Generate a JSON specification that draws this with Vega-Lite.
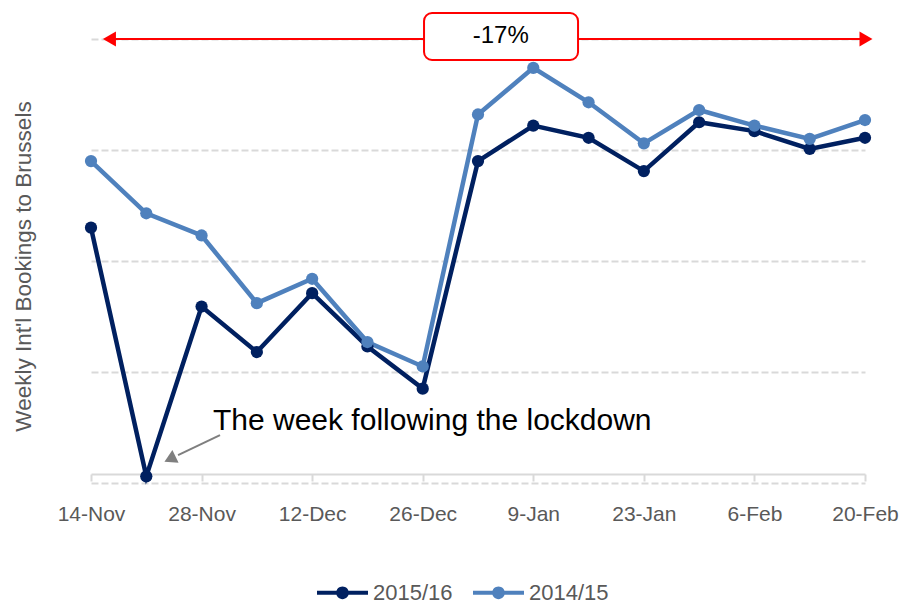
{
  "$schema": "https://vega.github.io/schema/vega-lite/v6.json",
  "width": 774,
  "height": 444,
  "autosize": {"type": "none"},
  "padding": {"left": 91, "top": 39, "right": 37, "bottom": 121},
  "background": "white",
  "config": {"view": {"stroke": null}, "font": "Liberation Sans"},
  "encoding": {
    "x": {
      "field": "date", "type": "temporal", "title": null,
      "scale": {"type": "utc", "nice": false, "domain": [
        {"year": 2015, "month": 11, "date": 14, "utc": true},
        {"year": 2016, "month": 2, "date": 20, "utc": true}
      ]},
      "axis": {
        "values": [
          {"year": 2015, "month": 11, "date": 14, "utc": true},
          {"year": 2015, "month": 11, "date": 28, "utc": true},
          {"year": 2015, "month": 12, "date": 12, "utc": true},
          {"year": 2015, "month": 12, "date": 26, "utc": true},
          {"year": 2016, "month": 1, "date": 9, "utc": true},
          {"year": 2016, "month": 1, "date": 23, "utc": true},
          {"year": 2016, "month": 2, "date": 6, "utc": true},
          {"year": 2016, "month": 2, "date": 20, "utc": true}
        ],
        "format": "%-d-%b",
        "grid": false,
        "offset": -9,
        "domainColor": "#D9D9D9", "domainWidth": 2,
        "tickColor": "#D9D9D9", "tickWidth": 2, "tickSize": 7,
        "labelPadding": 22, "labelFontSize": 21, "labelColor": "#595959",
        "labelFont": "Liberation Sans", "labelFlush": false, "labelOverlap": false
      }
    },
    "y": {
      "field": "value", "type": "quantitative",
      "title": "Weekly Int'l Bookings to Brussels",
      "scale": {"domain": [0, 4], "nice": false, "zero": false},
      "axis": {
        "values": [0, 1, 2, 3, 4],
        "labels": false, "ticks": false, "domain": false,
        "grid": true, "gridColor": "#D9D9D9", "gridDash": [7, 3], "gridWidth": 1.8,
        "titleFont": "Liberation Sans", "titleFontSize": 22.5, "titleFontWeight": "normal",
        "titleColor": "#595959", "titlePadding": 56, "titleY": 227
      }
    }
  },
  "layer": [
    {
      "data": {"values": [
        {"date": "2015-11-14", "season": "2015/16", "value": 2.30},
        {"date": "2015-11-21", "season": "2015/16", "value": 0.06},
        {"date": "2015-11-28", "season": "2015/16", "value": 1.59},
        {"date": "2015-12-05", "season": "2015/16", "value": 1.18},
        {"date": "2015-12-12", "season": "2015/16", "value": 1.71},
        {"date": "2015-12-19", "season": "2015/16", "value": 1.23},
        {"date": "2015-12-26", "season": "2015/16", "value": 0.85},
        {"date": "2016-01-02", "season": "2015/16", "value": 2.90},
        {"date": "2016-01-09", "season": "2015/16", "value": 3.22},
        {"date": "2016-01-16", "season": "2015/16", "value": 3.11},
        {"date": "2016-01-23", "season": "2015/16", "value": 2.81},
        {"date": "2016-01-30", "season": "2015/16", "value": 3.25},
        {"date": "2016-02-06", "season": "2015/16", "value": 3.17},
        {"date": "2016-02-13", "season": "2015/16", "value": 3.01},
        {"date": "2016-02-20", "season": "2015/16", "value": 3.11},
        {"date": "2015-11-14", "season": "2014/15", "value": 2.90},
        {"date": "2015-11-21", "season": "2014/15", "value": 2.43},
        {"date": "2015-11-28", "season": "2014/15", "value": 2.23},
        {"date": "2015-12-05", "season": "2014/15", "value": 1.62},
        {"date": "2015-12-12", "season": "2014/15", "value": 1.84},
        {"date": "2015-12-19", "season": "2014/15", "value": 1.27},
        {"date": "2015-12-26", "season": "2014/15", "value": 1.05},
        {"date": "2016-01-02", "season": "2014/15", "value": 3.32},
        {"date": "2016-01-09", "season": "2014/15", "value": 3.74},
        {"date": "2016-01-16", "season": "2014/15", "value": 3.43},
        {"date": "2016-01-23", "season": "2014/15", "value": 3.06},
        {"date": "2016-01-30", "season": "2014/15", "value": 3.36},
        {"date": "2016-02-06", "season": "2014/15", "value": 3.22},
        {"date": "2016-02-13", "season": "2014/15", "value": 3.10},
        {"date": "2016-02-20", "season": "2014/15", "value": 3.27}
      ]},
      "mark": {"type": "line", "strokeWidth": 4.5, "point": {"filled": true, "size": 150}},
      "encoding": {
        "color": {
          "field": "season", "type": "nominal",
          "scale": {"domain": ["2015/16", "2014/15"], "range": ["#002060", "#4F81BD"]},
          "legend": {
            "orient": "none", "legendX": 226, "legendY": 528, "direction": "horizontal",
            "title": null, "padding": 0,
            "symbolType": "M-1,-0.08H1V0.08H-1Z M-0.25,0A0.25,0.25 0 1,1 0.25,0A0.25,0.25 0 1,1 -0.25,0Z",
            "symbolSize": 2601, "symbolStrokeWidth": 0,
            "labelFont": "Liberation Sans", "labelFontSize": 22, "labelColor": "#595959",
            "labelOffset": 5, "columnPadding": 20,
            "encode": {"symbols": {"update": {"fill": {"scale": "color", "field": "value"}, "opacity": {"value": 1}, "strokeWidth": {"value": 0}}}}
          }
        }
      }
    },
    {
      "data": {"values": [{"date": "2015-11-16T08:00:00Z", "end": "2016-02-20T03:00:00Z", "value": 4}]},
      "mark": {"type": "rule", "color": "#FF0000", "strokeWidth": 2},
      "encoding": {"x2": {"field": "end"}}
    },
    {
      "data": {"values": [{"date": "2015-11-16T08:00:00Z", "value": 4}]},
      "mark": {"type": "point", "shape": "triangle-left", "filled": true, "color": "#FF0000", "size": 225, "opacity": 1},
      "encoding": {}
    },
    {
      "data": {"values": [{"date": "2016-02-20T03:00:00Z", "value": 4}]},
      "mark": {"type": "point", "shape": "triangle-right", "filled": true, "color": "#FF0000", "size": 225, "opacity": 1},
      "encoding": {}
    },
    {
      "data": {"values": [{"date": "2015-12-26T04:00:00Z", "end": "2016-01-14T16:00:00Z", "value": 4.234, "bottom": 3.811}]},
      "mark": {"type": "rect", "fill": "white", "stroke": "#FF0000", "strokeWidth": 2, "cornerRadius": 8},
      "encoding": {"x2": {"field": "end"}, "y2": {"field": "bottom"}}
    },
    {
      "data": {"values": [{"date": "2016-01-04T21:00:00Z", "value": 3.96, "label": "-17%"}]},
      "mark": {"type": "text", "align": "center", "baseline": "alphabetic", "fontSize": 24, "font": "Liberation Sans", "color": "black"},
      "encoding": {"text": {"field": "label"}}
    },
    {
      "data": {"values": [{"date": "2015-11-30T08:00:00Z", "end": "2015-11-25T00:30:00Z", "value": 0.432, "value_end": 0.252}]},
      "mark": {"type": "rule", "color": "#7F7F7F", "strokeWidth": 2},
      "encoding": {"x2": {"field": "end"}, "y2": {"field": "value_end"}}
    },
    {
      "data": {"values": [{"date": "2015-11-24T00:00:00Z", "value": 0.216}]},
      "mark": {"type": "point", "shape": "triangle-left", "filled": true, "color": "#7F7F7F", "size": 200, "angle": 334, "opacity": 1},
      "encoding": {}
    },
    {
      "data": {"values": [{"date": "2015-12-27T05:00:00Z", "value": 0.48, "label": "The week following the lockdown"}]},
      "mark": {"type": "text", "align": "center", "baseline": "alphabetic", "fontSize": 30, "font": "Liberation Sans", "color": "black"},
      "encoding": {"text": {"field": "label"}}
    }
  ]
}
